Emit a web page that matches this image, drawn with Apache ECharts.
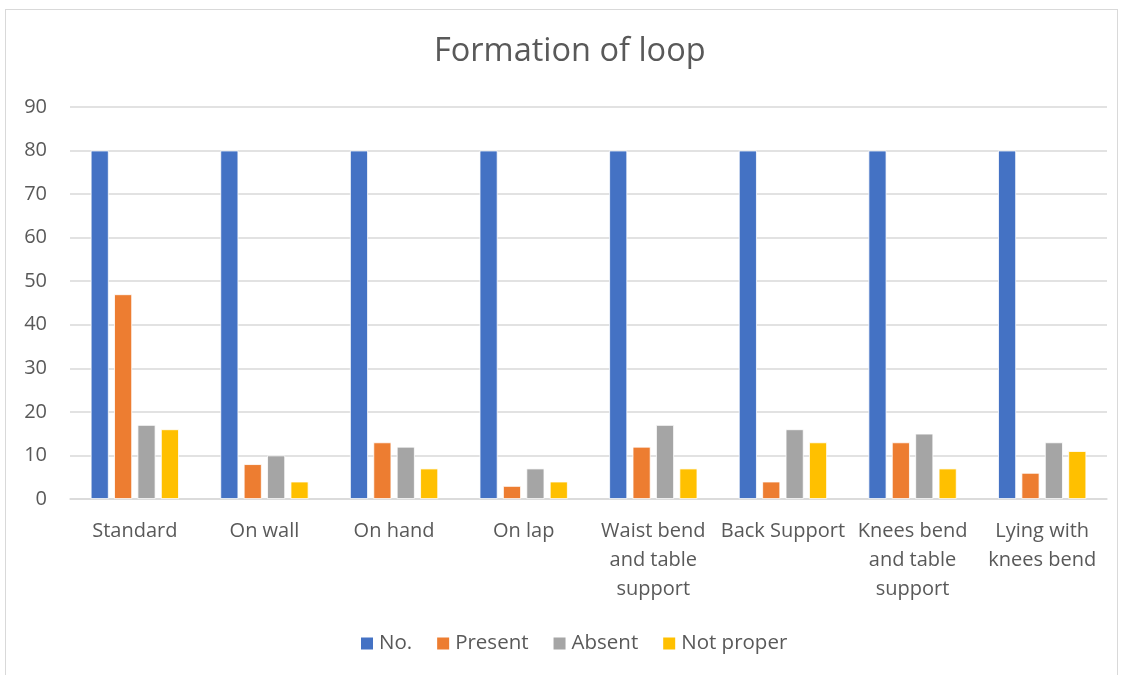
<!DOCTYPE html>
<html>
<head>
<meta charset="utf-8">
<script src="https://cdn.jsdelivr.net/npm/echarts@6/dist/echarts.min.js"></script>
<style>
  html, body { margin: 0; padding: 0; background: #fff; }
  #frame { position: absolute; left: 5px; top: 9px; width: 1113px; height: 680px; border: 1.5px solid #d9d9d9; box-sizing: border-box; }
  #chart { position: absolute; left: 0; top: 0; width: 1127px; height: 675px; }
</style>
</head>
<body>
<div id="frame"></div>
<div id="chart"></div>
<script>
// Postures and the counts for each outcome of loop formation
const categories = ['Standard', 'On wall', 'On hand', 'On lap', 'Waist bend\nand table\nsupport', 'Back Support', 'Knees bend\nand table\nsupport', 'Lying with\nknees bend'];
const seriesNames = ['No.', 'Present', 'Absent', 'Not proper'];
const noValues = [80, 80, 80, 80, 80, 80, 80, 80];
const presentValues = [47, 8, 13, 3, 12, 4, 13, 6];
const absentValues = [17, 10, 12, 7, 17, 16, 15, 13];
const notProperValues = [16, 4, 7, 4, 7, 13, 7, 11];
const colors = ['#4472c4', '#ed7d31', '#a5a5a5', '#ffc000'];

const font = '"Open Sans", "Noto Sans", sans-serif';
const textColor = '#595959';

const chart = echarts.init(document.getElementById('chart'), null, { renderer: 'canvas' });
const valueSets = [noValues, presentValues, absentValues, notProperValues];

chart.setOption({
  animation: false,
  color: colors,
  title: {
    text: 'Formation of loop',
    left: 429,
    top: 30,
    textStyle: { fontFamily: font, fontSize: 32.5, fontWeight: 'normal', color: textColor }
  },
  legend: {
    top: 628,
    left: 354,
    itemWidth: 14,
    itemHeight: 14,
    itemGap: 23,
    icon: 'rect',
    textStyle: { fontFamily: font, fontSize: 20.5, color: textColor },
    data: seriesNames
  },
  grid: { left: 70, right: 20, top: 107, bottom: 176, containLabel: false },
  xAxis: {
    type: 'category',
    data: categories,
    axisTick: { show: false },
    axisLine: { lineStyle: { color: '#d9d9d9', width: 1.5 } },
    axisLabel: { fontFamily: font, fontSize: 20, color: textColor, margin: 18, lineHeight: 29, interval: 0 }
  },
  yAxis: {
    type: 'value',
    min: 0,
    max: 90,
    interval: 10,
    axisLine: { show: false },
    axisTick: { show: false },
    splitLine: { lineStyle: { color: '#d9d9d9', width: 1.5 } },
    axisLabel: { fontFamily: font, fontSize: 20, color: textColor, margin: 23 }
  },
  series: seriesNames.map((name, i) => ({
    name: name,
    type: 'bar',
    data: valueSets[i],
    barWidth: 18,
    barGap: '30%',
    itemStyle: { color: colors[i], borderColor: '#ffffff', borderWidth: 0.8 }
  }))
});
</script>
</body>
</html>
